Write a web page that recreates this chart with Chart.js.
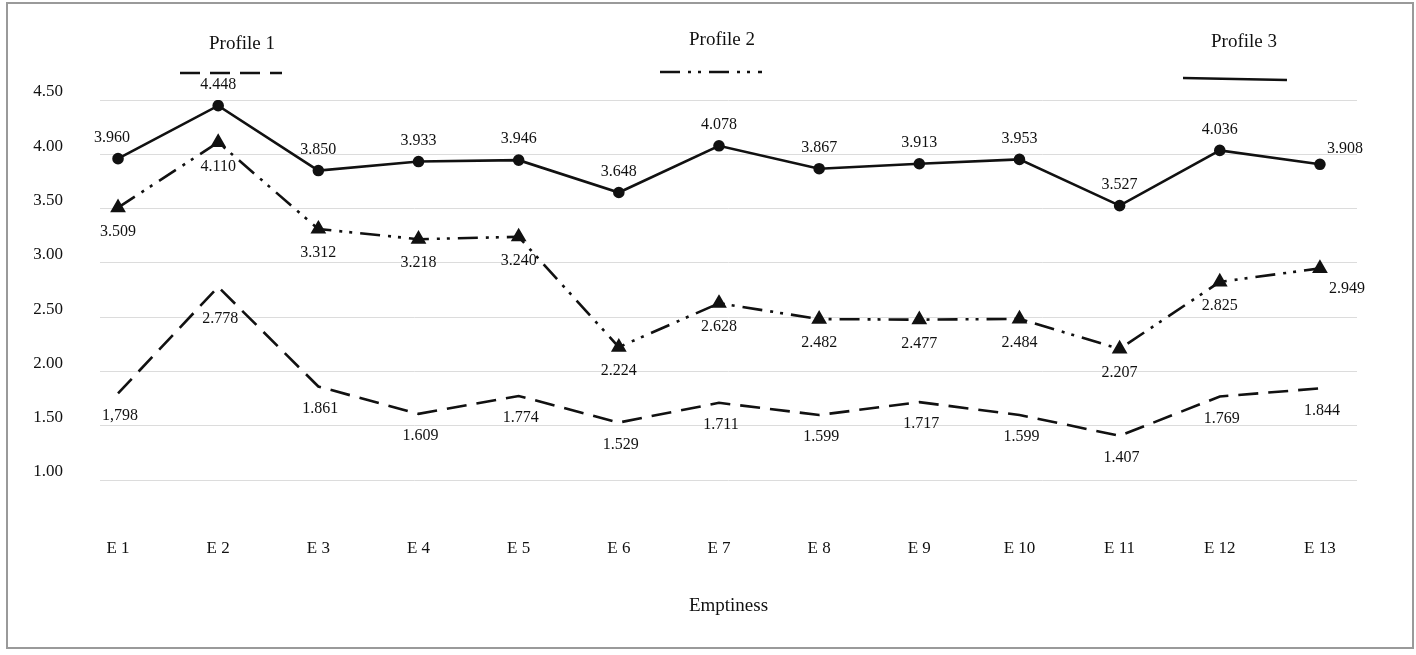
<!DOCTYPE html>
<html>
<head>
<meta charset="utf-8">
<script src="https://cdn.jsdelivr.net/npm/chart.js@4.4.1/dist/chart.umd.min.js"></script>
<style>
html,body{margin:0;padding:0;background:#fff;}
#wrap{width:1416px;height:655px;position:relative;}
</style>
</head>
<body>
<div id="wrap"><canvas id="c" width="1416" height="655"></canvas></div>
<script>
// ---- data ----
const categories = ['E 1','E 2','E 3','E 4','E 5','E 6','E 7','E 8','E 9','E 10','E 11','E 12','E 13'];
const seriesNames = ['Profile 1','Profile 2','Profile 3'];
const profile1 = [1.798, 2.778, 1.861, 1.609, 1.774, 1.529, 1.711, 1.599, 1.717, 1.599, 1.407, 1.769, 1.844];
const profile1Text = ['1,798','2.778','1.861','1.609','1.774','1.529','1.711','1.599','1.717','1.599','1.407','1.769','1.844'];
const profile2 = [3.509, 4.110, 3.312, 3.218, 3.240, 2.224, 2.628, 2.482, 2.477, 2.484, 2.207, 2.825, 2.949];
const profile3 = [3.960, 4.448, 3.850, 3.933, 3.946, 3.648, 4.078, 3.867, 3.913, 3.953, 3.527, 4.036, 3.908];
const yTicks = [1.00, 1.50, 2.00, 2.50, 3.00, 3.50, 4.00, 4.50];

const FONT = "'Liberation Serif', 'Times New Roman', serif";
const INK = '#111';

function toPoints(arr){ return arr.map((v,i)=>({x:i, y:v})); }

const borderPlugin = {
  id:'frame',
  beforeDraw(chart){
    const c = chart.ctx;
    c.save();
    c.fillStyle = '#fff';
    c.fillRect(0,0,chart.width,chart.height);
    c.strokeStyle = '#9a9a9a';
    c.lineWidth = 2;
    c.strokeRect(7,3,1406,645);
    c.restore();
  }
};

const legendPlugin = {
  id:'topLegend',
  afterDraw(chart, args, opts){
    const c = chart.ctx;
    c.save();
    opts.items.forEach((it, di)=>{
      const ds = chart.data.datasets[di];
      c.fillStyle = INK;
      c.font = '19px ' + FONT;
      c.textAlign = 'center';
      c.textBaseline = 'middle';
      c.fillText(ds.label, it.tx, it.ty);
      c.strokeStyle = ds.borderColor;
      c.lineWidth = ds.borderWidth;
      c.setLineDash(ds.borderDash || []);
      c.beginPath();
      c.moveTo(it.x1, it.y1);
      c.lineTo(it.x2, it.y2);
      c.stroke();
    });
    c.restore();
  }
};

const labelPlugin = {
  id:'pointLabels',
  afterDatasetsDraw(chart, args, opts){
    const c = chart.ctx;
    c.save();
    c.font = '16px ' + FONT;
    c.fillStyle = INK;
    c.textAlign = 'center';
    c.textBaseline = 'middle';
    chart.data.datasets.forEach((ds, di)=>{
      const meta = chart.getDatasetMeta(di);
      const cfg = opts.series[di];
      meta.data.forEach((pt, i)=>{
        const extra = (cfg.tweak && cfg.tweak[i]) || [0,0];
        const txt = ds.labelText[i];
        c.fillText(txt, pt.x + cfg.dx + extra[0], pt.y + cfg.dy + extra[1]);
      });
    });
    c.restore();
  }
};

const chart = new Chart(document.getElementById('c'), {
  type:'line',
  data:{
    datasets:[
      {
        label: seriesNames[0],
        data: toPoints(profile1),
        labelText: profile1Text,
        borderColor: INK, backgroundColor: INK,
        borderWidth: 2.6, borderDash:[20,10],
        pointRadius:0, tension:0, order:3
      },
      {
        label: seriesNames[1],
        data: toPoints(profile2),
        labelText: profile2.map(v=>v.toFixed(3)),
        borderColor: INK, backgroundColor: INK,
        borderWidth: 2.6, borderDash:[20,8,3,7,3,8],
        pointStyle:'triangle', pointRadius:6.5, tension:0, order:2
      },
      {
        label: seriesNames[2],
        data: toPoints(profile3),
        labelText: profile3.map(v=>v.toFixed(3)),
        borderColor: INK, backgroundColor: INK,
        borderWidth: 2.6,
        pointStyle:'circle', pointRadius:4.5, tension:0, order:1
      }
    ]
  },
  options:{
    responsive:false,
    animation:false,
    devicePixelRatio:1,
    layout:{padding:{top:100, right:59, left:0, bottom:0}},
    plugins:{
      legend:{display:false},
      tooltip:{enabled:false},
      topLegend:{
        items:[
          {tx:242, ty:44, x1:180, y1:73, x2:282, y2:73},
          {tx:722, ty:40, x1:660, y1:72, x2:762, y2:72},
          {tx:1244, ty:42, x1:1183, y1:78, x2:1287, y2:80}
        ]
      },
      pointLabels:{
        series:[
          {dx:2, dy:22, tweak:{1:[0,10]}},
          {dx:0, dy:24, tweak:{12:[27,-4]}},
          {dx:0, dy:-21, tweak:{0:[-6,0], 12:[25,6]}}
        ]
      }
    },
    scales:{
      x:{
        type:'linear',
        min:-0.18, max:12.37,
        afterBuildTicks:(s)=>{ s.ticks = categories.map((c,i)=>({value:i})); },
        grid:{display:false, drawTicks:false},
        border:{display:false},
        ticks:{
          autoSkip:false, maxRotation:0,
          callback:(v)=>categories[v],
          padding:58,
          color:INK,
          font:{family:FONT, size:17}
        },
        title:{
          display:true, text:'Emptiness', color:INK,
          font:{family:FONT, size:19},
          padding:{top:0, bottom:38}
        },
        afterFit:(s)=>{ s.height = 175; }
      },
      y:{
        min:1, max:4.5,
        afterBuildTicks:(s)=>{ s.ticks = yTicks.map(v=>({value:v})); },
        grid:{color:'#dcdcdc', lineWidth:1, drawTicks:false},
        border:{display:false},
        ticks:{
          callback:(v)=>Number(v).toFixed(2),
          padding:37,
          labelOffset:-8,
          color:INK,
          font:{family:FONT, size:17}
        },
        afterFit:(s)=>{ s.width = 100; }
      }
    }
  },
  plugins:[borderPlugin, legendPlugin, labelPlugin]
});
</script>
</body>
</html>
